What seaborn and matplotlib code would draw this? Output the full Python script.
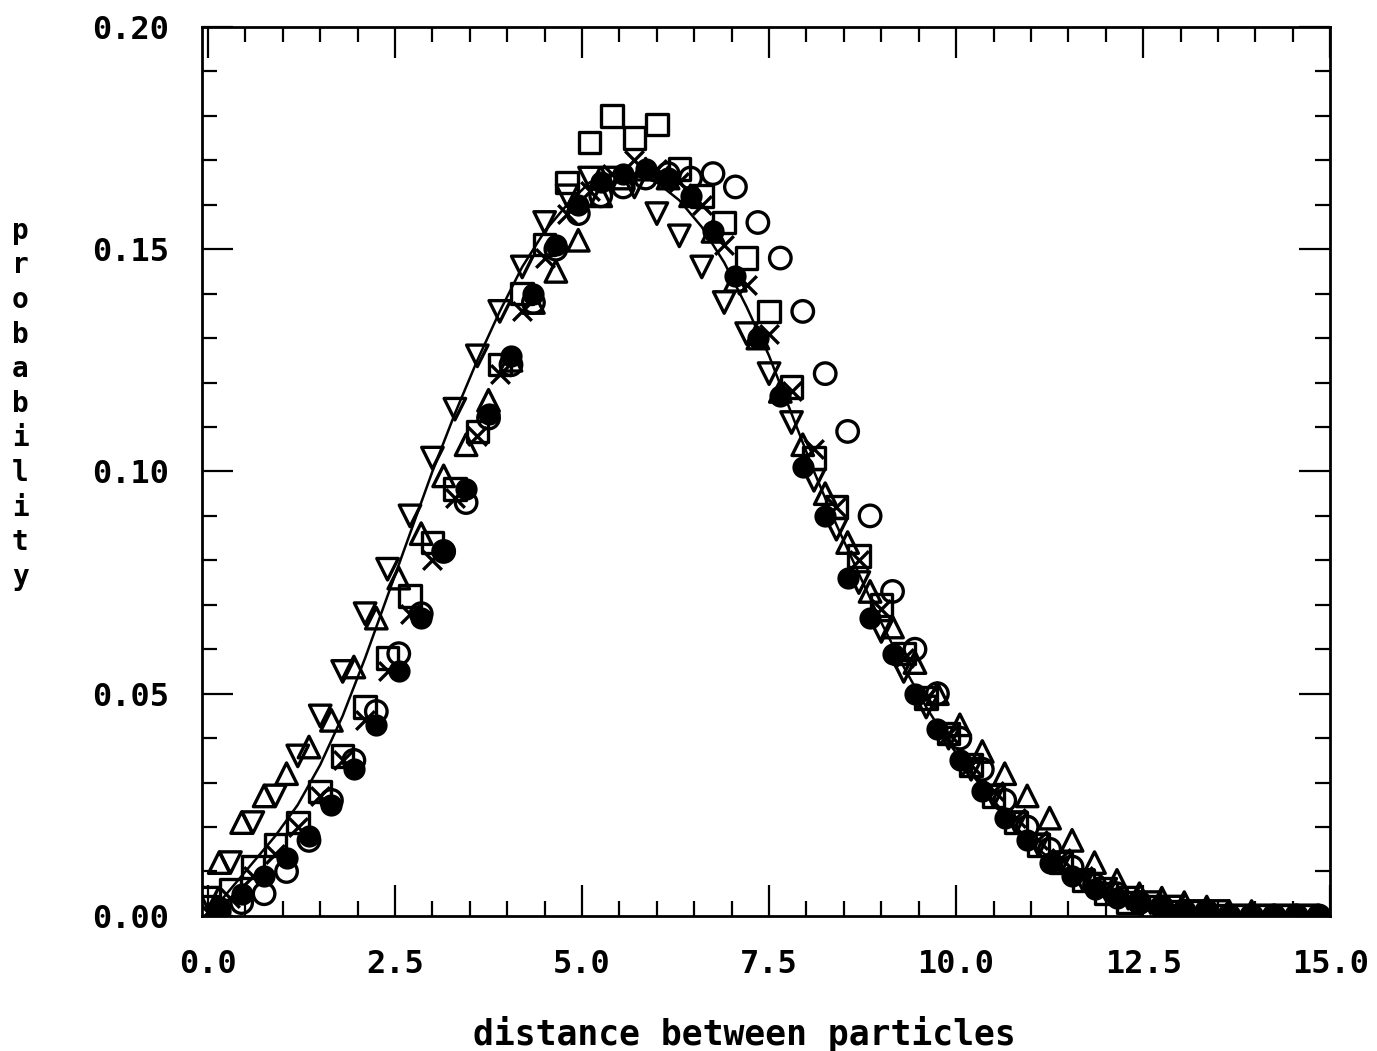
import pandas as pd
import matplotlib
matplotlib.use("Agg")
import matplotlib.pyplot as plt
import seaborn as sns
from matplotlib.ticker import MultipleLocator

sns.set_style("ticks")
plt.rcParams['font.family'] = ['DejaVu Sans Mono', 'DejaVu Sans']
plt.rcParams['font.weight'] = 'bold'

# two interleaved sampling grids of the distance histograms
grid_a = [0.0, 0.3, 0.6, 0.9, 1.2, 1.5, 1.8, 2.1, 2.4, 2.7,
          3.0, 3.3, 3.6, 3.9, 4.2, 4.5, 4.8, 5.1, 5.4, 5.7,
          6.0, 6.3, 6.6, 6.9, 7.2, 7.5, 7.8, 8.1, 8.4, 8.7,
          9.0, 9.3, 9.6, 9.9, 10.2, 10.5, 10.8, 11.1, 11.4, 11.7,
          12.0, 12.3, 12.6, 12.9, 13.2, 13.5, 13.8, 14.1, 14.4, 14.7]
grid_b = [0.15, 0.45, 0.75, 1.05, 1.35, 1.65, 1.95, 2.25, 2.55, 2.85,
          3.15, 3.45, 3.75, 4.05, 4.35, 4.65, 4.95, 5.25, 5.55, 5.85,
          6.15, 6.45, 6.75, 7.05, 7.35, 7.65, 7.95, 8.25, 8.55, 8.85,
          9.15, 9.45, 9.75, 10.05, 10.35, 10.65, 10.95, 11.25, 11.55, 11.85,
          12.15, 12.45, 12.75, 13.05, 13.35, 13.65, 13.95, 14.25, 14.55, 14.85]

# theoretical curve (solid line), sampled on grid_a
curve_y = [0.0, 0.006, 0.012, 0.018, 0.025, 0.034, 0.045, 0.058, 0.072, 0.086,
           0.100, 0.113, 0.125, 0.136, 0.146, 0.154, 0.160, 0.165, 0.167, 0.167,
           0.165, 0.161, 0.155, 0.147, 0.137, 0.126, 0.113, 0.100, 0.088, 0.077,
           0.066, 0.056, 0.047, 0.039, 0.032, 0.026, 0.020, 0.015, 0.011, 0.008,
           0.005, 0.0035, 0.002, 0.0013, 0.0008, 0.0005, 0.0003, 0.0002, 0.0001, 0.0]

tri_down = [0.004, 0.012, 0.021, 0.027, 0.036, 0.045, 0.055, 0.068, 0.078, 0.090,
            0.103, 0.114, 0.126, 0.136, 0.146, 0.156, 0.162, 0.166, 0.166, 0.164,
            0.158, 0.153, 0.146, 0.138, 0.131, 0.122, 0.111, 0.098, 0.087, 0.075,
            0.064, 0.055, 0.047, 0.040, 0.033, 0.027, 0.021, 0.016, 0.012, 0.008,
            0.006, 0.004, 0.003, 0.002, 0.001, 0.001, 0.0, 0.0, 0.0, 0.0]

squares = [0.002, 0.006, 0.011, 0.016, 0.021, 0.028, 0.036, 0.047, 0.058, 0.072,
           0.084, 0.096, 0.109, 0.124, 0.140, 0.151, 0.165, 0.174, 0.180, 0.175,
           0.178, 0.168, 0.162, 0.156, 0.148, 0.136, 0.119, 0.103, 0.092, 0.081,
           0.070, 0.059, 0.049, 0.041, 0.034, 0.027, 0.021, 0.016, 0.012, 0.008,
           0.005, 0.003, 0.002, 0.001, 0.001, 0.0, 0.0, 0.0, 0.0, 0.0]

crosses = [0.001, 0.004, 0.009, 0.014, 0.020, 0.027, 0.035, 0.044, 0.055, 0.068,
           0.080, 0.094, 0.108, 0.122, 0.136, 0.148, 0.158, 0.163, 0.167, 0.170,
           0.168, 0.165, 0.160, 0.151, 0.142, 0.131, 0.118, 0.105, 0.092, 0.080,
           0.069, 0.058, 0.049, 0.041, 0.034, 0.028, 0.022, 0.017, 0.013, 0.009,
           0.006, 0.004, 0.003, 0.002, 0.001, 0.001, 0.0, 0.0, 0.0, 0.0]

tri_up = [0.012, 0.021, 0.027, 0.032, 0.038, 0.044, 0.056, 0.067, 0.076, 0.086,
          0.099, 0.106, 0.116, 0.125, 0.138, 0.145, 0.152, 0.162, 0.166, 0.168,
          0.166, 0.162, 0.154, 0.143, 0.130, 0.118, 0.106, 0.095, 0.084, 0.073,
          0.065, 0.057, 0.050, 0.043, 0.037, 0.032, 0.027, 0.022, 0.017, 0.012,
          0.008, 0.005, 0.004, 0.003, 0.002, 0.001, 0.001, 0.0, 0.0, 0.0]

circles = [0.001, 0.003, 0.005, 0.010, 0.017, 0.026, 0.035, 0.046, 0.059, 0.068,
           0.082, 0.093, 0.112, 0.124, 0.138, 0.150, 0.158, 0.162, 0.164, 0.166,
           0.167, 0.166, 0.167, 0.164, 0.156, 0.148, 0.136, 0.122, 0.109, 0.090,
           0.073, 0.060, 0.050, 0.040, 0.033, 0.026, 0.020, 0.015, 0.011, 0.007,
           0.005, 0.003, 0.002, 0.001, 0.001, 0.0, 0.0, 0.0, 0.0, 0.0]

filled = [0.002, 0.005, 0.009, 0.013, 0.018, 0.025, 0.033, 0.043, 0.055, 0.067,
          0.082, 0.096, 0.113, 0.126, 0.140, 0.151, 0.160, 0.165, 0.167, 0.168,
          0.166, 0.162, 0.154, 0.144, 0.130, 0.117, 0.101, 0.090, 0.076, 0.067,
          0.059, 0.050, 0.042, 0.035, 0.028, 0.022, 0.017, 0.012, 0.009, 0.006,
          0.004, 0.003, 0.002, 0.001, 0.001, 0.0, 0.0, 0.0, 0.0, 0.0]

x_ticks = [0, 2.5, 5, 7.5, 10, 12.5, 15]
x_tick_labels = ['0.0', '2.5', '5.0', '7.5', '10.0', '12.5', '15.0']
y_ticks = [0, 0.05, 0.10, 0.15, 0.20]
y_tick_labels = ['0.00', '0.05', '0.10', '0.15', '0.20']

fig = plt.figure(figsize=(13.77, 10.51), dpi=100)
ax = fig.add_axes([0.1467, 0.1285, 0.8193, 0.8459])

hollow = [(grid_a, tri_down, 'v'), (grid_a, squares, 's'),
          (grid_b, tri_up, '^'), (grid_b, circles, 'o')]
for xs, ys, m in hollow:
    sns.scatterplot(x=xs, y=ys, marker=m, s=240, color='black',
                    facecolor='none', edgecolor='black', linewidth=2.4,
                    ax=ax, zorder=2)
sns.scatterplot(x=grid_b, y=filled, marker='o', s=210, color='black',
                edgecolor='black', linewidth=1.5, ax=ax, zorder=2)
sns.scatterplot(x=grid_a, y=crosses, marker='x', s=180, color='black',
                linewidth=2.4, ax=ax, zorder=2)
sns.lineplot(x=grid_a, y=curve_y, color='black', linewidth=1.8, ax=ax, zorder=3)

ax.xaxis.set_minor_locator(MultipleLocator(0.5))
ax.yaxis.set_minor_locator(MultipleLocator(0.01))
ax.set_xticks(x_ticks)
ax.set_xticklabels(x_tick_labels)
ax.set_yticks(y_ticks)
ax.set_yticklabels(y_tick_labels)
ax.set_xlim(-0.08, 15.0)
ax.set_ylim(0, 0.2)

ax.tick_params(which='both', direction='in', top=True, right=True,
               width=1.6, colors='black', labelsize=23, pad=24)
ax.tick_params(which='major', length=22)
ax.tick_params(which='minor', length=11)
for s in ax.spines.values():
    s.set_linewidth(2.0)
    s.set_color('black')

ax.set_xlabel('distance between particles', fontsize=25, fontweight='bold',
              color='black')
ax.xaxis.set_label_coords(0.481, -0.112)
ax.set_ylabel('\n'.join('probability'), fontsize=20, fontweight='bold',
              color='black', rotation=0, va='center', ha='center',
              linespacing=1.3)
ax.yaxis.set_label_coords(-0.161, 0.576)

fig.savefig('out.png', dpi=100, facecolor='white')
